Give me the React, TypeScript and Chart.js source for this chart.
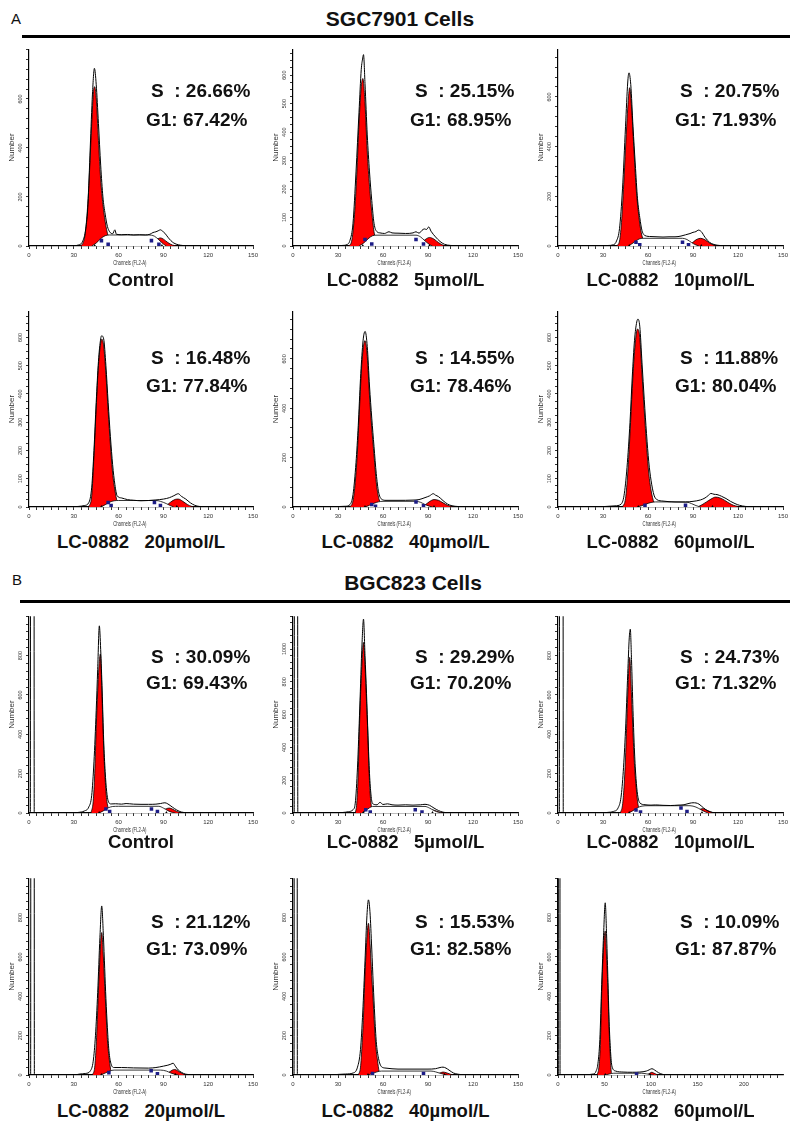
import React, { useEffect, useRef } from "react";
import { Chart, registerables } from "chart.js";

Chart.register(...registerables);

type Pt = [number, number];

// ---------- tick labels ----------
const xTicks150 = [0, 30, 60, 90, 120, 150];
const xTicks200 = [0, 50, 100, 150, 200];
const yTicks600by200 = [0, 200, 400, 600];
const yTicks600by100 = [0, 100, 200, 300, 400, 500, 600];
const yTicks800 = [0, 200, 400, 600, 800];
const yTicks1000 = [0, 200, 400, 600, 800, 1000];

// ---------- texts ----------
const sPhase = ["26.66%", "25.15%", "20.75%", "16.48%", "14.55%", "11.88%", "30.09%", "29.29%", "24.73%", "21.12%", "15.53%", "10.09%"];
const g1Phase = ["67.42%", "68.95%", "71.93%", "77.84%", "78.46%", "80.04%", "69.43%", "70.20%", "71.32%", "73.09%", "82.58%", "87.87%"];
const conditions = [
  "Control", "LC-0882   5µmol/L", "LC-0882   10µmol/L",
  "LC-0882   20µmol/L", "LC-0882   40µmol/L", "LC-0882   60µmol/L",
  "Control", "LC-0882   5µmol/L", "LC-0882   10µmol/L",
  "LC-0882   20µmol/L", "LC-0882   40µmol/L", "LC-0882   60µmol/L",
];
const yMaxes = [803, 691, 792, 693, 793, 693, 1000, 1200, 1000, 1000, 1000, 1000];

// ---------- SGC7901 ----------
const sgcCtrlHist: Pt[] = [[26,0],[30,1],[33,4],[36,20],[38,70],[39.5,170],[41,400],[42.5,620],[43.8,725],[45,660],[46.5,500],[48,330],[49.5,200],[51,130],[52.5,80],[54,58],[56,50],[57.5,66],[58.5,48],[62,46],[66,47],[70,45],[74,46],[78,45],[81,48],[83,55],[85,58],[86.5,62],[88,66],[89.5,60],[91,52],[93,36],[95,22],[97,12],[100,5],[103,2],[106,1],[112,1],[118,0]];
const sgcCtrlG1: Pt[] = [[34,0],[36,10],[37.5,45],[39,140],[40.5,300],[42,500],[43.2,630],[44,650],[45,605],[46.5,430],[48,270],[49.5,170],[51,100],[53,40],[55,10],[57,0]];
const sgcCtrlG2: Pt[] = [[80,0],[83,10],[86,28],[88,33],[90,28],[93,14],[96,4],[99,0]];
const sgcCtrlS: Pt[] = [[42,0],[45,12],[48,30],[51,42],[54,45],[80,45],[84,40],[87,25],[90,8],[92,0]];
const sgcCtrlMarks: Pt[] = [[48.5,22],[53,7],[82,22],[87,7]];
const sgcCtrlPeaks = [44, 89];

const sgc5Hist: Pt[] = [[28,0],[33,2],[36,5],[38,20],[40,80],[42,260],[44,470],[45.5,620],[46.5,660],[47,672],[48,570],[49.5,390],[51,260],[52.5,160],[54,80],[56,50],[58,46],[61,44],[64,50],[66,46],[70,45],[75,44],[80,46],[82,50],[84,45],[86,55],[87.5,60],[89,58],[90.5,67],[92,52],[95,32],[98,16],[101,6],[105,2],[110,1],[118,0]];
const sgc5G1: Pt[] = [[37,0],[39,15],[41,110],[42.5,250],[44,430],[45.5,560],[46.6,588],[48,500],[49.5,330],[51,210],[52.5,120],[54,50],[56,10],[58,0]];
const sgc5G2: Pt[] = [[82,0],[85,8],[88,22],[91,30],[94,24],[97,12],[100,3],[102,0]];
const sgc5S: Pt[] = [[44,0],[47,10],[50,25],[53,36],[56,38],[82,38],[85,32],[88,18],[91,5],[93,0]];
const sgc5Marks: Pt[] = [[48,23],[52.5,7],[82,23],[87,7]];
const sgc5Peaks = [46.5, 91];

const sgc10Hist: Pt[] = [[28,0],[33,2],[37,5],[39,20],[41,70],[43,230],[45,480],[46.5,660],[47.3,697],[48.5,650],[50,480],[51.5,330],[53,190],[54.5,115],[56,62],[58,42],[62,38],[66,37],[70,36],[74,37],[78,37],[82,40],[85,45],[88,50],[90,55],[92,58],[93.5,64],[95.5,58],[98,35],[101,15],[104,6],[108,2],[115,0]];
const sgc10G1: Pt[] = [[39,0],[41,20],[42.5,110],[44,270],[45.5,450],[47,600],[47.8,637],[49,560],[50.5,400],[52,240],[53.5,140],[55,70],[57,20],[59,0]];
const sgc10G2: Pt[] = [[86,0],[89,10],[92,25],[95,31],[98,25],[101,12],[104,3],[107,0]];
const sgc10S: Pt[] = [[47,0],[50,12],[53,25],[56,31],[83,31],[86,26],[89,14],[92,4],[94,0]];
const sgc10Marks: Pt[] = [[52,15],[54.5,5],[83,15],[87,5]];
const sgc10Peaks = [47.5, 95.5];

const sgc20Hist: Pt[] = [[26,0],[33,2],[37,5],[40,15],[42,70],[43.5,200],[45,370],[46.5,515],[48,595],[48.6,606],[50,595],[51.5,500],[53,370],[54.5,250],[56,150],[57.5,80],[59,40],[62,32],[66,26],[70,24],[75,22],[80,23],[85,25],[90,28],[94,33],[97,40],[100,47],[102,38],[105,28],[108,15],[111,6],[114,2],[120,1],[130,0]];
const sgc20G1: Pt[] = [[40,0],[42,40],[43.5,180],[45,350],[46.5,500],[48,580],[48.8,594],[50,570],[51.5,470],[53,340],[54.5,220],[56,120],[57.5,60],[59,20],[61,0]];
const sgc20G2: Pt[] = [[89,0],[92,6],[95,18],[98,27],[100,28],[103,20],[106,9],[109,2],[111,0]];
const sgc20S: Pt[] = [[48,0],[51,8],[54,17],[57,22],[60,23],[85,23],[88,20],[92,12],[95,4],[97,0]];
const sgc20Marks: Pt[] = [[53,16],[55,5],[84,16],[88,5]];
const sgc20Peaks = [48.5, 99];

const sgc40Hist: Pt[] = [[26,0],[31,2],[35,3],[38,10],[40,50],[42,180],[43.5,330],[45,520],[46.5,660],[47.3,700],[48.1,711],[49.5,650],[51,490],[52.5,360],[54,245],[55.5,135],[57,62],[59,32],[62,27],[70,27],[80,28],[84,30],[88,38],[91,45],[93.5,54],[95,48],[97,42],[100,26],[103,12],[106,5],[110,2],[118,1],[125,0]];
const sgc40G1: Pt[] = [[38,0],[40,25],[41.5,100],[43,231],[44.5,420],[46,590],[48,674],[49.5,610],[51,450],[52.5,320],[54,210],[55.5,100],[57,40],[59,10],[61,0]];
const sgc40G2: Pt[] = [[85,0],[88,8],[91,22],[94,30],[97,27],[100,17],[103,7],[106,2],[108,0]];
const sgc40S: Pt[] = [[48,0],[51,7],[54,15],[57,21],[60,23],[82,23],[85,19],[88,10],[91,3],[93,0]];
const sgc40Marks: Pt[] = [[52.5,10],[55,3],[82,20],[87,5]];
const sgc40Peaks = [48, 94];

const sgc60Hist: Pt[] = [[26,0],[32,2],[38,4],[42,10],[44,40],[46,140],[48,300],[49.5,460],[51,590],[52.5,655],[53.3,665],[54.5,640],[56,510],[57.5,380],[59,260],[60.5,160],[62,95],[64,42],[66,26],[70,21],[78,18],[85,18],[90,20],[95,25],[98,32],[100,40],[102,48],[104,45],[106,44],[109,38],[112,30],[115,20],[118,12],[121,6],[125,2],[130,1],[135,0]];
const sgc60G1: Pt[] = [[43,0],[45,30],[46.5,120],[48,260],[49.5,420],[51,550],[53,630],[54.5,600],[56,470],[57.5,340],[59,220],[60.5,120],[62,60],[64,15],[66,0]];
const sgc60G2: Pt[] = [[93,0],[96,8],[99,18],[102,28],[105,35],[108,32],[111,24],[114,14],[117,6],[120,2],[122,0]];
const sgc60S: Pt[] = [[53,0],[56,5],[59,11],[62,16],[65,18],[86,17],[89,12],[92,5],[95,0]];
const sgc60Marks: Pt[] = [[58,6],[85,6]];
const sgc60Peaks = [53.5, 103];

// ---------- BGC823 ----------
const bgcCtrlHist: Pt[] = [[0,0],[0.9,0],[1.1,3000],[3.3,3000],[3.5,0],[28,0],[33,3],[37,10],[40,30],[42,90],[43.5,260],[45,520],[46,730],[47.1,951],[48,830],[49,620],[50,370],[51,210],[52,110],[53,62],[55,46],[58,47],[62,45],[65,48],[70,45],[75,44],[80,44],[85,45],[88,48],[91,52],[93,46],[96,30],[99,15],[102,5],[105,2],[110,1],[120,1],[130,0]];
const bgcCtrlG1: Pt[] = [[41.5,0],[43,60],[44,200],[45,430],[46,620],[47,760],[47.8,808],[48.5,690],[49.3,500],[50,330],[51,170],[52,70],[53.5,15],[55,0]];
const bgcCtrlG2: Pt[] = [[86,0],[89,10],[92,22],[94,25],[96,20],[99,8],[102,0]];
const bgcCtrlS: Pt[] = [[47,0],[50,12],[53,26],[56,33],[60,34],[87,34],[90,25],[93,12],[96,3],[98,0]];
const bgcCtrlMarks: Pt[] = [[51.5,20],[54,7],[82,20],[86,7]];
const bgcCtrlPeaks = [47, 92];

const bgc5Hist: Pt[] = [[0,0],[0.8,0],[1,3000],[3,3000],[3.2,0],[28,0],[33,3],[37,8],[40,20],[41.5,60],[43,280],[44.5,640],[46,1030],[47,1182],[48,960],[49,730],[50,470],[51,240],[52,110],[53,58],[56,50],[58,65],[60,52],[63,56],[66,50],[70,48],[75,50],[80,48],[85,50],[88,53],[91,47],[94,30],[97,15],[100,5],[103,2],[110,1],[120,0]];
const bgc5G1: Pt[] = [[41.5,0],[42.5,60],[43.5,250],[44.3,525],[45.5,820],[47,1040],[48,900],[49,680],[49.7,525],[50.5,300],[51.4,121],[52.5,30],[53.5,0]];
const bgc5G2: Pt[] = [[88,0],[91,10],[93,18],[95,14],[98,4],[100,0]];
const bgc5S: Pt[] = [[46,0],[48.5,15],[51,32],[53,40],[88,40],[91,30],[94,15],[97,4],[99,0]];
const bgc5Marks: Pt[] = [[48.5,20],[51.5,6],[81.5,20],[86,6]];
const bgc5Peaks = [47, 93];

const bgc10Hist: Pt[] = [[0,0],[0.9,0],[1.1,3000],[3.3,3000],[3.5,0],[28,0],[33,3],[37,8],[40,25],[42,80],[43.5,210],[45,420],[46.5,710],[47.5,890],[48.2,934],[49,780],[50,520],[51,310],[52,175],[53,95],[54.5,52],[58,42],[62,40],[65,41],[70,39],[75,38],[80,40],[84,42],[86,46],[88,50],[90,52],[92,51],[94,45],[97,26],[100,10],[103,3],[108,1],[120,0]];
const bgc10G1: Pt[] = [[41.5,0],[43,40],[44,130],[45,280],[45.6,404],[46.5,600],[47.8,791],[49,600],[50,404],[51,240],[52,140],[53,60],[54.5,10],[56,0]];
const bgc10G2: Pt[] = [[89,0],[92,10],[95,20],[97,22],[99,15],[102,5],[104,0]];
const bgc10S: Pt[] = [[47,0],[50,12],[53,27],[56,35],[60,37],[88,37],[92,30],[95,18],[98,6],[100,0]];
const bgc10Marks: Pt[] = [[52,15],[55,5],[82,25],[86,8]];
const bgc10Peaks = [47.5, 96];

const bgc20Hist: Pt[] = [[0,0],[1.1,0],[1.3,3000],[3.4,3000],[3.6,0],[30,0],[34,5],[38,8],[41,20],[43,70],[44.5,200],[46,420],[47.5,700],[48.7,859],[49.8,710],[50.7,540],[51.5,390],[52.5,240],[53.5,125],[55,55],[57,38],[62,38],[70,36],[80,35],[85,38],[90,45],[93,50],[95,55],[96.5,60],[98,45],[100,25],[102,14],[105,4],[110,1],[120,0]];
const bgc20G1: Pt[] = [[42.5,0],[44,40],[45,150],[46,328],[47,520],[48.7,724],[49.8,600],[50.7,450],[51.5,328],[52.5,180],[53.8,76],[55,15],[56,0]];
const bgc20G2: Pt[] = [[90,0],[93,10],[96,25],[97.5,28],[99.5,22],[102,10],[104.5,2],[106,0]];
const bgc20S: Pt[] = [[48,0],[51,10],[54,20],[57,25],[88,25],[92,20],[95,10],[98,3],[100,0]];
const bgc20Marks: Pt[] = [[53.5,12],[81.8,22],[86,6]];
const bgc20Peaks = [48.5, 98];

const bgc40Hist: Pt[] = [[0,0],[0.7,0],[0.9,3000],[2.7,3000],[2.9,0],[26,0],[30,3],[35,5],[40,10],[43,40],[45,130],[46.5,320],[48,580],[49.3,810],[50.3,890],[51.3,830],[52.5,640],[53.5,460],[54.5,300],[55.5,170],[57,85],[59,42],[62,35],[70,30],[80,30],[90,30],[95,32],[98,38],[100,40],[102,35],[104,25],[107,10],[110,4],[113,1],[120,0]];
const bgc40G1: Pt[] = [[43.5,0],[45,40],[46,150],[47,300],[47.5,415],[48.7,620],[50.3,771],[51.5,650],[52.5,500],[53.2,415],[54.3,250],[55.3,140],[56.3,76],[57.5,15],[58.5,0]];
const bgc40G2: Pt[] = [[95,0],[98,10],[100,15],[102,12],[105,4],[107,0]];
const bgc40S: Pt[] = [[50,0],[53,8],[56,16],[59,20],[92,20],[95,16],[98,9],[101,3],[103,0]];
const bgc40Marks: Pt[] = [[53,8],[87,8]];
const bgc40Peaks = [50, 101];

const bgc60Hist: Pt[] = [[0,0],[0.3,0],[0.5,3000],[2,3000],[2.2,0],[20,0],[30,2],[38,5],[41,20],[43,60],[45,180],[47,460],[49,710],[50.8,875],[52.2,720],[53.6,500],[55,270],[56.5,120],[58,45],[62,20],[70,15],[80,14],[88,15],[95,20],[98,26],[101,32],[104,25],[108,12],[112,4],[116,0]];
const bgc60G1: Pt[] = [[42,0],[44,40],[45.5,150],[47.2,446],[49,650],[50.8,732],[52.2,600],[53.6,446],[55,230],[56.1,109],[57.2,20],[58,0]];
const bgc60G2: Pt[] = [[96,0],[99,10],[101,14],[103,10],[106,3],[108,0]];
const bgc60S: Pt[] = [[51,0],[55,5],[60,9],[90,9],[95,6],[100,2],[103,0]];
const bgc60Marks: Pt[] = [[84.5,5]];
const bgc60Peaks = [50.8, 99];

// ---------- layout ----------
const FONT = "'Liberation Sans', Arial, sans-serif";
const colX = [[29, 253], [293, 518], [558, 783]];
const rowY = [[48, 246], [310, 507], [615, 813], [877, 1075]];
const statTop = [[84, 113], [351, 379], [650, 676], [915, 942]];
const labelTop = [274, 536, 836, 1105];
const PAD_L = 30, PAD_T = 6, PAD_R = 10, PAD_B = 24;

interface PanelData {
  hist: Pt[]; g1: Pt[]; g2: Pt[]; s: Pt[]; marks: Pt[]; peaks: number[];
  yLabels: number[]; yMinor: number; xMax: number; xLabels: number[]; xMinor: number;
}

const panels: PanelData[] = [
  { hist: sgcCtrlHist, g1: sgcCtrlG1, g2: sgcCtrlG2, s: sgcCtrlS, marks: sgcCtrlMarks, peaks: sgcCtrlPeaks, yLabels: yTicks600by200, yMinor: 40, xMax: 150, xLabels: xTicks150, xMinor: 5 },
  { hist: sgc5Hist, g1: sgc5G1, g2: sgc5G2, s: sgc5S, marks: sgc5Marks, peaks: sgc5Peaks, yLabels: yTicks600by100, yMinor: 25, xMax: 150, xLabels: xTicks150, xMinor: 5 },
  { hist: sgc10Hist, g1: sgc10G1, g2: sgc10G2, s: sgc10S, marks: sgc10Marks, peaks: sgc10Peaks, yLabels: yTicks600by200, yMinor: 40, xMax: 150, xLabels: xTicks150, xMinor: 5 },
  { hist: sgc20Hist, g1: sgc20G1, g2: sgc20G2, s: sgc20S, marks: sgc20Marks, peaks: sgc20Peaks, yLabels: yTicks600by100, yMinor: 25, xMax: 150, xLabels: xTicks150, xMinor: 5 },
  { hist: sgc40Hist, g1: sgc40G1, g2: sgc40G2, s: sgc40S, marks: sgc40Marks, peaks: sgc40Peaks, yLabels: yTicks600by200, yMinor: 40, xMax: 150, xLabels: xTicks150, xMinor: 5 },
  { hist: sgc60Hist, g1: sgc60G1, g2: sgc60G2, s: sgc60S, marks: sgc60Marks, peaks: sgc60Peaks, yLabels: yTicks600by100, yMinor: 25, xMax: 150, xLabels: xTicks150, xMinor: 5 },
  { hist: bgcCtrlHist, g1: bgcCtrlG1, g2: bgcCtrlG2, s: bgcCtrlS, marks: bgcCtrlMarks, peaks: bgcCtrlPeaks, yLabels: yTicks800, yMinor: 40, xMax: 150, xLabels: xTicks150, xMinor: 5 },
  { hist: bgc5Hist, g1: bgc5G1, g2: bgc5G2, s: bgc5S, marks: bgc5Marks, peaks: bgc5Peaks, yLabels: yTicks1000, yMinor: 40, xMax: 150, xLabels: xTicks150, xMinor: 5 },
  { hist: bgc10Hist, g1: bgc10G1, g2: bgc10G2, s: bgc10S, marks: bgc10Marks, peaks: bgc10Peaks, yLabels: yTicks800, yMinor: 40, xMax: 150, xLabels: xTicks150, xMinor: 5 },
  { hist: bgc20Hist, g1: bgc20G1, g2: bgc20G2, s: bgc20S, marks: bgc20Marks, peaks: bgc20Peaks, yLabels: yTicks800, yMinor: 40, xMax: 150, xLabels: xTicks150, xMinor: 5 },
  { hist: bgc40Hist, g1: bgc40G1, g2: bgc40G2, s: bgc40S, marks: bgc40Marks, peaks: bgc40Peaks, yLabels: yTicks800, yMinor: 40, xMax: 150, xLabels: xTicks150, xMinor: 5 },
  { hist: bgc60Hist, g1: bgc60G1, g2: bgc60G2, s: bgc60S, marks: bgc60Marks, peaks: bgc60Peaks, yLabels: yTicks800, yMinor: 40, xMax: 242, xLabels: xTicks200, xMinor: 50 / 7 },
];

const toXY = (a: Pt[]) => a.map(([x, y]) => ({ x, y }));

function tickValues(max: number, step: number): number[] {
  const out: number[] = [];
  for (let i = 0; i * step <= max + 1e-6; i++) out.push(Math.round(i * step * 1000) / 1000);
  return out;
}
const isMajor = (v: number, list: number[]) => list.some((m) => Math.abs(m - v) < 1e-3);

const axisText = {
  id: "axisText",
  afterDraw(chart: any, _args: any, opts: any) {
    const { ctx, chartArea: a, scales } = chart;
    const y = scales.y;
    ctx.save();
    ctx.fillStyle = "#333";
    ctx.textAlign = "center";
    ctx.textBaseline = "middle";
    ctx.font = `5.5px ${FONT}`;
    for (const v of opts.yLabels as number[]) {
      const py = y.getPixelForValue(v);
      ctx.save();
      ctx.translate(a.left - 9, py);
      ctx.rotate(-Math.PI / 2);
      ctx.fillText(String(v), 0, 0);
      ctx.restore();
    }
    ctx.font = `8px ${FONT}`;
    ctx.save();
    ctx.translate(a.left - 17, (a.top + a.bottom) / 2);
    ctx.rotate(-Math.PI / 2);
    ctx.fillText("Number", 0, 0);
    ctx.restore();
    ctx.font = `6.5px ${FONT}`;
    ctx.save();
    ctx.translate(a.left + (a.right - a.left) * 0.45, a.bottom + 17);
    ctx.scale(0.65, 1);
    ctx.fillText("Channels (FL2-A)", 0, 0);
    ctx.restore();
    ctx.restore();
  },
};

function Histogram({ d, yMax, left, top, w, h }: { d: PanelData; yMax: number; left: number; top: number; w: number; h: number }) {
  const ref = useRef<HTMLCanvasElement>(null);
  useEffect(() => {
    if (!ref.current) return;
    const areaDs = (data: Pt[], bg: string, order: number) => ({
      type: "line" as const,
      data: toXY(data),
      borderColor: "#000",
      borderWidth: 0.8,
      backgroundColor: bg,
      fill: "origin",
      pointRadius: 0,
      cubicInterpolationMode: "monotone" as const,
      order,
    });
    const chart = new Chart(ref.current, {
      type: "line",
      data: {
        datasets: [
          areaDs(d.g1, "#ff0000", 6),
          areaDs(d.g2, "#ff0000", 5),
          areaDs(d.s, "#ffffff", 4),
          {
            type: "line",
            data: toXY(d.hist),
            borderColor: "#000",
            borderWidth: 1,
            fill: false,
            pointRadius: 0,
            cubicInterpolationMode: "monotone",
            order: 2,
          },
          {
            type: "scatter",
            data: toXY(d.marks),
            pointStyle: "rect",
            pointRadius: 2.5,
            backgroundColor: "#1c1c86",
            borderWidth: 0,
            order: 1,
          },
          {
            type: "scatter",
            data: d.peaks.map((x) => ({ x, y: 0 })),
            pointStyle: "triangle",
            pointRadius: 2,
            backgroundColor: "#000",
            borderWidth: 0,
            order: 1,
          },
        ] as any,
      },
      options: {
        animation: false,
        responsive: false,
        devicePixelRatio: 1,
        layout: { padding: { left: 0, top: PAD_T, right: PAD_R, bottom: 0 } },
        plugins: {
          legend: { display: false },
          tooltip: { enabled: false },
          axisText: { yLabels: d.yLabels },
        } as any,
        scales: {
          x: {
            type: "linear",
            min: 0,
            max: d.xMax,
            afterFit: (s: any) => { s.height = PAD_B; },
            afterBuildTicks: (s: any) => { s.ticks = tickValues(d.xMax, d.xMinor).map((v) => ({ value: v })); },
            ticks: {
              autoSkip: false,
              maxRotation: 0,
              minRotation: 0,
              padding: 3,
              color: "#333",
              font: { size: 6, family: FONT },
              callback: (v: any) => (isMajor(Number(v), d.xLabels) ? String(v) : ""),
            },
            grid: { drawOnChartArea: false, tickLength: 3, color: "#000", lineWidth: 0.8 },
            border: { color: "#000", width: 1.2 },
          },
          y: {
            type: "linear",
            min: 0,
            max: yMax,
            afterFit: (s: any) => { s.width = PAD_L; },
            afterBuildTicks: (s: any) => { s.ticks = tickValues(yMax, d.yMinor).map((v) => ({ value: v })); },
            ticks: { autoSkip: false, padding: 0, callback: () => "" },
            grid: { drawOnChartArea: false, tickLength: 3, color: "#000", lineWidth: 0.8 },
            border: { color: "#000", width: 1.2 },
          },
        },
      } as any,
      plugins: [axisText as any],
    });
    return () => chart.destroy();
  }, []);
  return (
    <canvas
      ref={ref}
      width={w}
      height={h}
      style={{ position: "absolute", left, top, width: w, height: h }}
    />
  );
}

const textBase: React.CSSProperties = {
  position: "absolute",
  fontFamily: FONT,
  fontWeight: "bold",
  whiteSpace: "pre",
  color: "#111",
  lineHeight: 1,
};

export default function App() {
  return (
    <div style={{ position: "absolute", left: 0, top: 0, width: 796, height: 1131, background: "#fff", overflow: "hidden" }}>
      <div style={{ ...textBase, fontWeight: "normal", fontSize: 15, left: 11, top: 11 }}>A</div>
      <div style={{ ...textBase, fontSize: 21, left: 300, width: 200, textAlign: "center", top: 8 }}>SGC7901 Cells</div>
      <div style={{ position: "absolute", left: 22, top: 35, width: 768, height: 3, background: "#000" }} />
      <div style={{ ...textBase, fontWeight: "normal", fontSize: 15, left: 12, top: 572 }}>B</div>
      <div style={{ ...textBase, fontSize: 21, left: 313, width: 200, textAlign: "center", top: 572 }}>BGC823 Cells</div>
      <div style={{ position: "absolute", left: 20, top: 600, width: 770, height: 3, background: "#000" }} />
      {panels.map((d, i) => {
        const r = Math.floor(i / 3);
        const c = i % 3;
        const [l, rt] = colX[c];
        const [t, b] = rowY[r];
        const w = rt - l + PAD_L + PAD_R;
        const h = b - t + PAD_T + PAD_B;
        return (
          <React.Fragment key={i}>
            <Histogram d={d} yMax={yMaxes[i]} left={l - PAD_L} top={t - PAD_T} w={w} h={h} />
            <div style={{ ...textBase, fontSize: 19, left: l + 122, top: statTop[r][0] - 3 }}>{"S  : " + sPhase[i]}</div>
            <div style={{ ...textBase, fontSize: 19, left: l + 117, top: statTop[r][1] - 3 }}>{"G1: " + g1Phase[i]}</div>
            <div style={{ ...textBase, fontSize: 18.5, left: l - 40, width: rt - l + 80, textAlign: "center", top: labelTop[r] - 3 }}>{conditions[i]}</div>
          </React.Fragment>
        );
      })}
    </div>
  );
}
